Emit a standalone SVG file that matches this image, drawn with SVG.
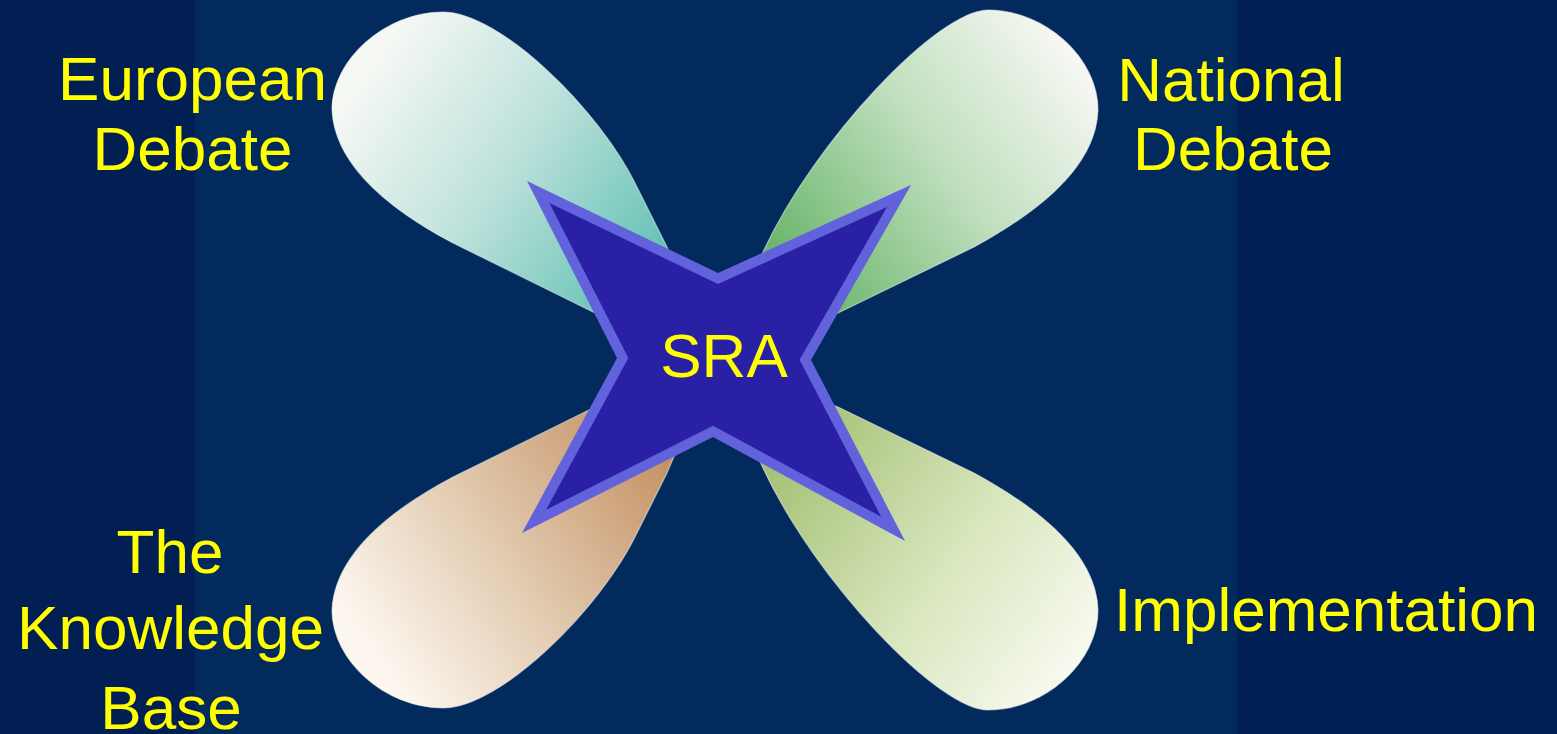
<svg xmlns="http://www.w3.org/2000/svg" width="1557" height="734" viewBox="0 0 1557 734">
  <defs>
    <style>
      .label { font-family: "Liberation Sans", Arial, sans-serif; font-size: 62px; fill: #ffff00; text-anchor: middle; }
      .petal { stroke: #eef4f2; stroke-width: 1.2; stroke-opacity: 0.55; }
    </style>
    <linearGradient id="gTeal" gradientUnits="userSpaceOnUse" x1="360" y1="80" x2="660" y2="290">
      <stop offset="0" stop-color="#f6f8f4"/>
      <stop offset="0.45" stop-color="#bfe2dc"/>
      <stop offset="1" stop-color="#5cbfb0"/>
    </linearGradient>
    <linearGradient id="gTan" gradientUnits="userSpaceOnUse" x1="360" y1="80" x2="660" y2="290">
      <stop offset="0" stop-color="#fdf7f0"/>
      <stop offset="0.45" stop-color="#e2cbb0"/>
      <stop offset="1" stop-color="#c48f62"/>
    </linearGradient>
    <linearGradient id="gGreen" gradientUnits="userSpaceOnUse" x1="1090" y1="70" x2="790" y2="290">
      <stop offset="0" stop-color="#f8f8f4"/>
      <stop offset="0.45" stop-color="#c2e0c0"/>
      <stop offset="1" stop-color="#66b468"/>
    </linearGradient>
    <linearGradient id="gOlive" gradientUnits="userSpaceOnUse" x1="1090" y1="70" x2="790" y2="290">
      <stop offset="0" stop-color="#f8faf0"/>
      <stop offset="0.45" stop-color="#d8e6bc"/>
      <stop offset="1" stop-color="#a4c074"/>
    </linearGradient>
    <path id="petalL" d="M714,358 L593,312 L453,243 C400,215 335,170 332,110 C332,60 385,12 443,12 C500,12 600,110 637,187 L667,247 Z"/>
    <path id="petalR" d="M714,358 L838,313 L974,247 C1027,218 1096,172 1098,110 C1098,58 1045,10 988,10 C938,10 815,140 763,252 Z"/>
  </defs>

  <g id="background">
    <rect x="0" y="0" width="1557" height="734" fill="#022a5c"/>
    <rect x="0" y="0" width="195" height="734" fill="#011f52"/>
    <rect x="1237" y="0" width="320" height="734" fill="#001f55"/>
  </g>

  <g id="european-debate">
    <use href="#petalL" class="petal" fill="url(#gTeal)"/>
    <text class="label" x="192.5" y="100">European</text>
    <text class="label" x="192.5" y="170">Debate</text>
  </g>

  <g id="national-debate">
    <use href="#petalR" class="petal" fill="url(#gGreen)"/>
    <text class="label" x="1231" y="101">National</text>
    <text class="label" x="1233" y="170">Debate</text>
  </g>

  <g id="knowledge-base">
    <use href="#petalL" class="petal" fill="url(#gTan)" transform="translate(0,720) scale(1,-1)"/>
    <text class="label" x="170" y="573">The</text>
    <text class="label" x="170.5" y="649">Knowledge</text>
    <text class="label" x="171" y="729">Base</text>
  </g>

  <g id="implementation">
    <use href="#petalR" class="petal" fill="url(#gOlive)" transform="translate(0,720) scale(1,-1)"/>
    <text class="label" x="1326" y="631">Implementation</text>
  </g>

  <g id="sra">
    <polygon points="527,181 718,273 911,185 811,360 905,541 713,437 522,533 617,358" fill="#6262dc"/>
    <polygon points="549.4,202.9 718,284 887,206.9 799.6,359.8 881.1,516.8 713,425.7 546.1,509.7 628.3,358.1" fill="#2a20a6"/>
    <text class="label" x="724" y="377">SRA</text>
  </g>
</svg>
